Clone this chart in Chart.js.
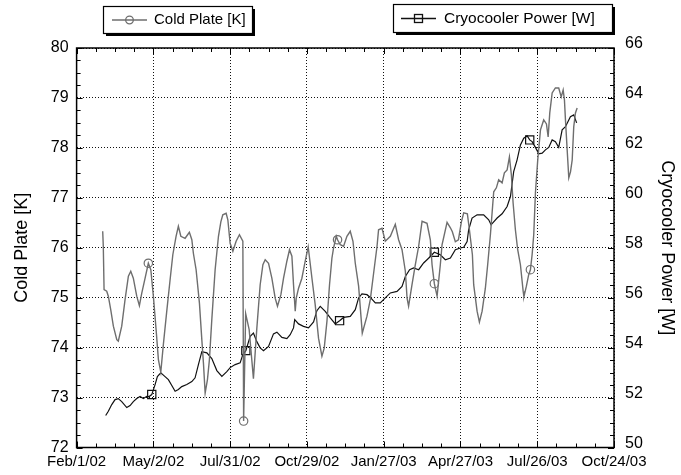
<!DOCTYPE html>
<html>
<head>
<meta charset="utf-8">
<script src="https://cdn.jsdelivr.net/npm/chart.js@4.4.1/dist/chart.umd.min.js"></script>
<style>
  html, body { margin: 0; padding: 0; background: #ffffff; }
  #wrap { width: 681px; height: 475px; position: relative; }
</style>
</head>
<body>
<div id="wrap"><canvas id="c" width="681" height="475"></canvas></div>
<script>
// ---- Data (x = days since Feb/1/02) ----
const xTickLabels = ['Feb/1/02', 'May/2/02', 'Jul/31/02', 'Oct/29/02', 'Jan/27/03', 'Apr/27/03', 'Jul/26/03', 'Oct/24/03'];

const coldDays = [30.6,31.3,32.2,35.3,37.2,40.0,43.1,47.1,48.9,52.9,56.8,60.7,63.5,66.5,70.5,73.6,76.4,80.3,84.1,87.0,
  90.0,93.2,95.9,98.7,101.7,105.7,109.6,112.8,116.6,119.3,122.2,127.2,132.2,135.1,136.9,140.1,144.0,146.8,148.7,150.7,
  153.4,155.7,158.5,162.4,166.3,169.1,171.4,175.3,177.3,179.2,180.0,183.2,187.0,190.9,194.9,195.8,198.2,202.3,207.3,211.3,
  215.2,218.4,221.1,225.0,228.9,232.8,235.5,239.5,242.6,246.5,249.6,252.4,254.3,256.3,257.5,260.2,264.1,268.0,271.5,275.9,
  279.7,283.6,287.6,290.3,293.5,296.5,299.3,301.2,304.4,305.9,309.1,313.0,316.9,320.8,324.0,326.7,330.6,334.9,340.4,344.3,
  348.2,352.2,354.0,358.0,361.9,367.8,373.6,377.5,381.5,385.4,387.4,389.2,393.2,397.1,401.0,405.0,410.8,414.7,416.7,419.4,
  422.6,426.4,428.4,434.3,438.2,440.5,444.0,447.6,451.1,453.8,458.1,460.5,464.0,465.5,469.5,472.2,475.4,479.2,481.9,485.1,
  489.0,492.1,494.8,498.8,501.5,504.7,507.4,509.7,511.7,514.4,517.1,520.3,523.5,524.4,527.3,530.0,532.0,534.0,535.9,537.9,
  540.6,543.8,547.6,550.8,552.8,554.7,557.5,561.3,565.2,568.1,570.4,571.9,573.1,575.1,577.0,579.0,581.0,582.8,584.8,586.8];
const coldK = [76.33,76.03,75.16,75.13,75.03,74.76,74.43,74.16,74.13,74.43,74.96,75.43,75.53,75.39,75.03,74.84,75.09,75.39,75.69,75.56,
  75.03,74.36,73.76,73.51,74.06,74.73,75.36,75.86,76.23,76.43,76.23,76.19,76.31,76.16,75.89,75.56,74.89,74.16,73.69,73.09,
  73.36,73.76,74.56,75.56,76.23,76.52,76.66,76.69,76.56,76.23,76.09,75.93,76.13,76.26,76.13,72.53,74.68,74.36,73.38,74.39,
  75.26,75.66,75.76,75.69,75.39,74.99,74.83,75.06,75.39,75.73,75.96,75.83,75.26,74.73,74.99,75.19,75.39,75.73,76.02,75.39,
  74.86,74.19,73.83,73.99,74.53,75.26,75.79,75.99,76.23,76.16,76.06,76.03,76.23,76.33,76.13,75.69,75.23,74.29,74.63,74.96,
  75.49,76.03,76.36,76.39,76.13,76.23,76.47,76.16,75.96,75.53,74.99,74.83,75.26,75.66,76.03,76.53,76.49,76.16,75.66,75.28,
  75.03,75.66,76.06,76.51,76.40,76.32,76.12,76.16,76.52,76.70,76.68,76.36,75.86,75.26,74.73,74.51,74.73,75.19,75.66,76.26,
  77.12,77.20,77.36,77.30,77.50,77.56,77.82,77.46,76.90,76.36,75.96,75.66,75.13,75.02,75.23,75.46,75.56,75.86,76.26,77.10,
  77.76,78.36,78.56,78.48,78.22,78.70,79.10,79.20,79.20,79.02,79.16,78.96,78.56,77.96,77.40,77.52,77.76,78.42,78.70,78.80];
const coldMarkerDays = [84.1, 195.8, 305.9, 419.4, 532.0];

const powerDays = [34.1,37.2,41.2,45.1,48.9,52.9,58.8,62.7,66.5,70.5,74.4,78.3,82.3,85.0,88.1,92.0,94.7,98.7,103.7,107.6,
  111.6,115.5,119.3,123.3,129.2,135.1,138.9,142.8,146.8,152.7,158.5,164.4,170.3,176.1,180.0,185.9,191.7,194.9,198.4,203.5,
  207.3,211.3,215.2,219.1,225.0,230.8,234.8,240.7,246.5,250.4,254.3,255.7,260.2,266.0,271.9,277.8,281.7,285.6,291.5,297.4,
  303.2,308.3,313.0,320.8,326.7,330.6,334.5,340.4,344.3,350.2,356.0,361.9,367.8,375.6,381.5,385.4,390.4,395.1,401.0,406.8,
  410.8,414.7,419.4,426.4,432.3,438.2,444.0,449.9,453.8,457.8,459.6,463.6,469.5,477.2,483.1,485.9,493.0,498.8,504.7,508.6,
  512.4,516.4,520.3,524.2,528.2,531.2,534.0,537.9,541.8,545.8,549.6,553.5,557.5,561.3,565.2,569.2,573.1,578.9,582.8,586.2];
const powerW = [51.28,51.45,51.72,51.92,51.96,51.84,51.60,51.68,51.84,51.96,52.04,51.96,52.05,52.04,52.12,52.52,52.84,52.99,52.84,52.72,
  52.48,52.25,52.32,52.44,52.52,52.64,52.79,53.32,53.84,53.79,53.56,53.08,52.85,53.04,53.20,53.32,53.39,53.72,53.88,54.45,
  54.58,54.24,53.99,53.88,54.05,54.55,54.62,54.41,54.36,54.52,54.79,55.12,54.95,54.85,54.79,55.03,55.48,55.65,55.45,55.19,
  54.95,55.08,55.21,55.25,55.52,55.99,56.15,56.12,56.01,55.79,55.79,55.99,56.19,56.25,56.45,56.85,57.12,57.19,57.12,57.39,
  57.52,57.65,57.82,57.72,57.52,57.59,57.92,57.99,58.02,58.25,58.72,59.19,59.32,59.32,59.12,58.92,59.19,59.36,59.65,60.05,
  61.05,61.52,62.12,62.39,62.48,62.32,62.25,62.02,61.76,61.79,61.92,62.02,62.32,62.25,62.02,62.72,62.85,63.25,63.32,63.00];
const powerMarkerDays = [88.1, 198.4, 308.3, 419.4, 531.2];

const seriesNames = ['Cold Plate [K]', 'Cryocooler Power [W]'];
const axisTitles = ['Cold Plate [K]', 'Cryocooler Power [W]'];

// ---- Build datasets ----
const toXY = (xs, ys) => xs.map((x, i) => ({ x: x, y: ys[i] }));
const markerRadius = (days, r) => (ctx) => {
  const p = ctx.raw; if (!p) return 0;
  return days.some(d => Math.abs(d - p.x) < 0.05) ? r : 0;
};

const FONT = "'Liberation Sans', Arial, Helvetica, sans-serif";
const GRAY = '#6e6e6e';
const BLACK = '#111111';

const framePlugin = {
  id: 'frameTicks',
  afterDatasetsDraw(chart) {
    const { ctx, chartArea: a, scales } = chart;
    const x = scales.x, yl = scales.yK, yr = scales.yW;
    ctx.save();
    ctx.strokeStyle = '#000';
    ctx.lineWidth = 1;
    ctx.beginPath();
    for (let v = 0; v <= 630.01; v += 22.5) {
      const px = Math.round(x.getPixelForValue(v)) + 0.5;
      const len = (Math.abs(v % 90) < 0.01) ? 6 : 4;
      ctx.moveTo(px, a.bottom); ctx.lineTo(px, a.bottom - len);
      ctx.moveTo(px, a.top); ctx.lineTo(px, a.top + len);
    }
    for (let v = 72; v <= 80.001; v += 0.25) {
      const py = Math.round(yl.getPixelForValue(v)) + 0.5;
      const len = (Math.abs(v - Math.round(v)) < 0.01) ? 6 : 4;
      ctx.moveTo(a.left, py); ctx.lineTo(a.left + len, py);
    }
    for (let v = 50; v <= 66.001; v += 0.5) {
      const py = Math.round(yr.getPixelForValue(v)) + 0.5;
      const len = (Math.abs(v / 2 - Math.round(v / 2)) < 0.01) ? 6 : 4;
      ctx.moveTo(a.right, py); ctx.lineTo(a.right - len, py);
    }
    ctx.stroke();
    ctx.lineWidth = 1.5;
    ctx.strokeRect(a.left, a.top, a.right - a.left, a.bottom - a.top);
    ctx.restore();
  },
  afterDraw(chart) {
    const ctx = chart.ctx;
    const drawBox = (bx, by, bw, bh) => {
      ctx.fillStyle = '#000';
      ctx.fillRect(bx + 3, by + 3, bw, bh);
      ctx.fillStyle = '#fff';
      ctx.fillRect(bx, by, bw, bh);
      ctx.lineWidth = 1.2;
      ctx.strokeStyle = '#000';
      ctx.strokeRect(bx + 0.5, by + 0.5, bw, bh);
    };
    ctx.save();
    // legend 1
    drawBox(103, 6, 149, 27);
    let cy = 20;
    ctx.strokeStyle = GRAY; ctx.lineWidth = 1.3;
    ctx.beginPath(); ctx.moveTo(112, cy); ctx.lineTo(147, cy); ctx.stroke();
    ctx.beginPath(); ctx.arc(129.5, cy, 3.8, 0, Math.PI * 2); ctx.stroke();
    ctx.fillStyle = '#000';
    ctx.font = '15px ' + FONT;
    ctx.textBaseline = 'middle'; ctx.textAlign = 'left';
    ctx.fillText(seriesNames[0], 154, cy);
    // legend 2
    drawBox(393, 4, 219, 28);
    cy = 18.5;
    ctx.strokeStyle = BLACK; ctx.lineWidth = 1.3;
    ctx.beginPath(); ctx.moveTo(401, cy); ctx.lineTo(436, cy); ctx.stroke();
    ctx.strokeRect(414.5, cy - 4, 8, 8);
    ctx.fillStyle = '#000';
    ctx.font = '15.5px ' + FONT;
    ctx.fillText(seriesNames[1], 444, cy);
    ctx.restore();
  }
};

const chart = new Chart(document.getElementById('c'), {
  type: 'line',
  data: {
    datasets: [
      {
        label: seriesNames[0],
        data: toXY(coldDays, coldK),
        yAxisID: 'yK',
        borderColor: GRAY,
        borderWidth: 1.4,
        pointStyle: 'circle',
        pointRadius: markerRadius(coldMarkerDays, 4.2),
        pointHoverRadius: 0,
        pointBorderColor: GRAY,
        pointBorderWidth: 1.2,
        pointBackgroundColor: 'rgba(0,0,0,0)',
        tension: 0,
        fill: false
      },
      {
        label: seriesNames[1],
        data: toXY(powerDays, powerW),
        yAxisID: 'yW',
        borderColor: BLACK,
        borderWidth: 1.2,
        pointStyle: 'rect',
        pointRadius: markerRadius(powerMarkerDays, 5.8),
        pointHoverRadius: 0,
        pointBorderColor: BLACK,
        pointBorderWidth: 1.2,
        pointBackgroundColor: 'rgba(0,0,0,0)',
        tension: 0,
        fill: false
      }
    ]
  },
  options: {
    responsive: false,
    animation: false,
    devicePixelRatio: 1,
    layout: { padding: { top: 48, left: 0, right: 0, bottom: 0 } },
    plugins: { legend: { display: false }, tooltip: { enabled: false } },
    events: [],
    scales: {
      x: {
        type: 'linear',
        min: 0, max: 630,
        afterBuildTicks: (s) => { s.ticks = xTickLabels.map((_, i) => ({ value: i * 90 })); },
        afterFit: (s) => { s.height = 27.5; },
        ticks: {
          autoSkip: false, maxRotation: 0, padding: 5,
          color: '#000', font: { family: FONT, size: 15 },
          callback: (v) => xTickLabels[Math.round(v / 90)]
        },
        grid: { color: '#111', lineWidth: 1, drawTicks: false },
        border: { display: false, dash: [1, 2] }
      },
      yK: {
        type: 'linear', position: 'left',
        min: 72, max: 80,
        afterFit: (s) => { s.width = 76.6; },
        ticks: { stepSize: 1, padding: 8, color: '#000', font: { family: FONT, size: 16 } },
        grid: { color: '#111', lineWidth: 1, drawTicks: false },
        border: { display: false, dash: [1, 2] },
        title: { display: true, text: axisTitles[0], color: '#000', font: { family: FONT, size: 18 }, padding: { top: 11, bottom: 0 } }
      },
      yW: {
        type: 'linear', position: 'right',
        min: 50, max: 66,
        afterFit: (s) => { s.width = 67; },
        ticks: { stepSize: 2, padding: 11, labelOffset: -4, color: '#000', font: { family: FONT, size: 16 } },
        grid: { display: false, drawTicks: false },
        border: { display: false },
        title: { display: true, text: axisTitles[1], color: '#000', font: { family: FONT, size: 18 }, padding: { top: 3, bottom: 0 } }
      }
    }
  },
  plugins: [framePlugin]
});
</script>
</body>
</html>
